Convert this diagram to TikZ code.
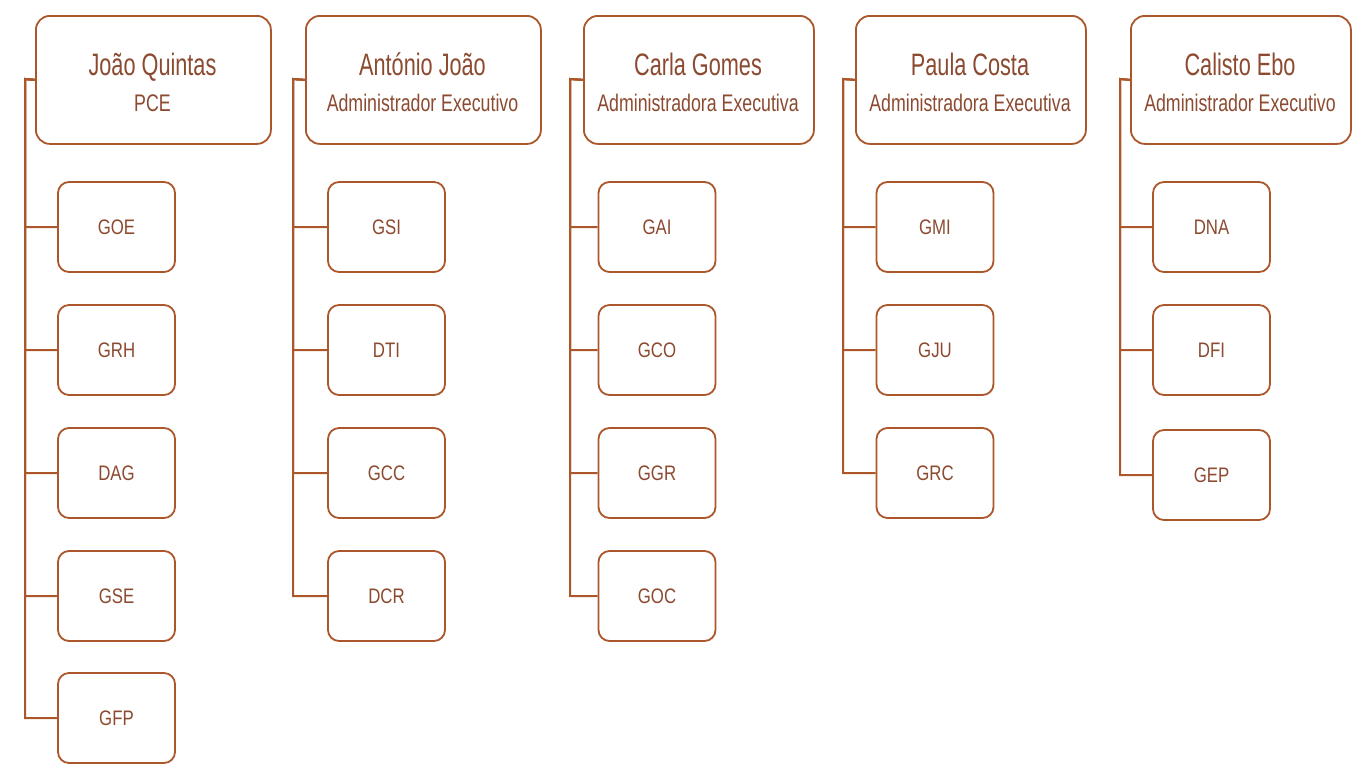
\documentclass[tikz,border=0pt]{standalone}
\usepackage{fontspec}
\newfontfamily\namefont[FakeStretch=0.70]{Liberation Sans}
\newfontfamily\subfont[FakeStretch=0.74]{Liberation Sans}
\newfontfamily\boxfont[FakeStretch=0.8]{Liberation Sans}
\definecolor{ln}{HTML}{AC572B}
\definecolor{tx}{HTML}{8C4A30}
\begin{document}
\begin{tikzpicture}[x=1pt,y=-1pt,
  head/.style={draw=ln, line width=1.8pt, rounded corners=14pt, fill=white, minimum height=128pt, inner sep=0pt, anchor=north west},
  child/.style={draw=ln, line width=1.8pt, rounded corners=11pt, fill=white, minimum width=117pt, minimum height=90pt, inner sep=0pt, text=tx, font=\boxfont\fontsize{21}{21}\selectfont},
  nametext/.style={anchor=base, inner sep=0pt, text=tx, font=\namefont\fontsize{31}{31}\selectfont},
  subtext/.style={anchor=base, inner sep=0pt, text=tx, font=\subfont\fontsize{24}{24}\selectfont},
  conn/.style={draw=ln, line width=2pt}]
\useasboundingbox (0,0) rectangle (1354,764);

% spine tops
\coordinate (s1) at (25,79);
\coordinate (s2) at (293,79);
\coordinate (s3) at (570,79);
\coordinate (s4) at (843,79);
\coordinate (s5) at (1120,79);

% headers
\node[head, minimum width=235pt] (h1) at (35,15) {};
\node[head, minimum width=235pt] (h2) at (305,15) {};
\node[head, minimum width=230pt] (h3) at (583,15) {};
\node[head, minimum width=230pt] (h4) at (855,15) {};
\node[head, minimum width=220pt] (h5) at (1130,15) {};

\node[nametext] (n1) at (152.5,75) {João Quintas};
\node[subtext]  (t1) at (152.5,111) {PCE};
\node[nametext] (n2) at (422.5,75) {António João};
\node[subtext]  (t2) at (422.5,111) {Administrador Executivo};
\node[nametext] (n3) at (698,75) {Carla Gomes};
\node[subtext]  (t3) at (698,111) {Administradora Executiva};
\node[nametext] (n4) at (970,75) {Paula Costa};
\node[subtext]  (t4) at (970,111) {Administradora Executiva};
\node[nametext] (n5) at (1240,75) {Calisto Ebo};
\node[subtext]  (t5) at (1240,111) {Administrador Executivo};

% children
\node[child] (c11) at (116.5,227) {GOE};
\node[child] (c12) at (116.5,350) {GRH};
\node[child] (c13) at (116.5,473) {DAG};
\node[child] (c14) at (116.5,596) {GSE};
\node[child] (c15) at (116.5,718) {GFP};

\node[child] (c21) at (386.5,227) {GSI};
\node[child] (c22) at (386.5,350) {DTI};
\node[child] (c23) at (386.5,473) {GCC};
\node[child] (c24) at (386.5,596) {DCR};

\node[child] (c31) at (657,227) {GAI};
\node[child] (c32) at (657,350) {GCO};
\node[child] (c33) at (657,473) {GGR};
\node[child] (c34) at (657,596) {GOC};

\node[child] (c41) at (935,227) {GMI};
\node[child] (c42) at (935,350) {GJU};
\node[child] (c43) at (935,473) {GRC};

\node[child] (c51) at (1211.5,227) {DNA};
\node[child] (c52) at (1211.5,350) {DFI};
\node[child] (c53) at (1211.5,475) {GEP};

% connectors
\foreach \k in {1,...,5} \draw[conn] (h1.west) -- (s1) |- (c1\k.west);
\foreach \k in {1,...,4} \draw[conn] (h2.west) -- (s2) |- (c2\k.west);
\foreach \k in {1,...,4} \draw[conn] (h3.west) -- (s3) |- (c3\k.west);
\foreach \k in {1,...,3} \draw[conn] (h4.west) -- (s4) |- (c4\k.west);
\foreach \k in {1,...,3} \draw[conn] (h5.west) -- (s5) |- (c5\k.west);
\end{tikzpicture}
\end{document}
